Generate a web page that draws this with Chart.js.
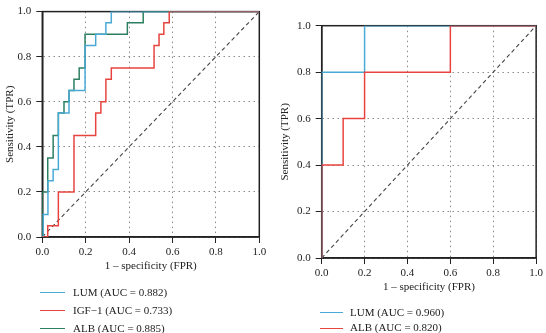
<!DOCTYPE html>
<html><head><meta charset="utf-8">
<script src="https://cdn.jsdelivr.net/npm/chart.js@4"></script>
<style>
body{margin:0;background:#fff;width:546px;height:333px;overflow:hidden;position:relative;font-family:"Liberation Serif",serif;}
.wrap{position:absolute;}
.leg{position:absolute;font-size:11px;color:#222;}
.item{position:relative;white-space:nowrap;}
.item .ln{position:absolute;left:0;height:0;border-top:1.3px solid;}
.item .tx{position:absolute;top:0;}
</style></head>
<body>
<div class="wrap" style="left:0;top:0;width:270px;height:275px"><canvas id="c1"></canvas></div>
<div class="wrap" style="left:276px;top:0;width:270px;height:296px"><canvas id="c2"></canvas></div>
<div class="leg" id="leg1" style="left:40px;top:282.5px"></div>
<div class="leg" id="leg2" style="left:320px;top:304.6px"></div>
<script>
// ---- data: left panel ----
const leftNames = ['LUM', 'IGF\u22121', 'ALB'];
const leftAuc = ['0.882', '0.733', '0.885'];
const leftLumFpr = [0, 0.004, 0.026, 0.05, 0.074, 0.123, 0.197, 0.246, 0.293, 0.318, 1.0];
const leftLumTpr = [0, 0.10, 0.25, 0.30, 0.55, 0.65, 0.85, 0.90, 0.95, 1.00, 1.00];
const leftIgfFpr = [0, 0.025, 0.074, 0.146, 0.246, 0.270, 0.293, 0.318, 0.515, 0.538, 0.560, 0.585, 1.0];
const leftIgfTpr = [0, 0.05, 0.20, 0.45, 0.55, 0.60, 0.70, 0.75, 0.85, 0.90, 0.95, 1.00, 1.00];
const leftAlbFpr = [0, 0, 0.025, 0.05, 0.074, 0.10, 0.123, 0.146, 0.170, 0.197, 0.392, 0.465, 1.0];
const leftAlbTpr = [0, 0.20, 0.35, 0.45, 0.55, 0.60, 0.65, 0.70, 0.75, 0.90, 0.95, 1.00, 1.00];
// ---- data: right panel ----
const rightNames = ['LUM', 'ALB'];
const rightAuc = ['0.960', '0.820'];
const rightLumFpr = [0, 0, 0.2, 1.0];
const rightLumTpr = [0, 0.8, 1.0, 1.0];
const rightAlbFpr = [0, 0, 0.1, 0.2, 0.6, 1.0];
const rightAlbTpr = [0, 0.4, 0.6, 0.8, 1.0, 1.0];
// ---- shared ----
const axisTicks = [0, 0.2, 0.4, 0.6, 0.8, 1.0];
const refFpr = [0, 1];
const refTpr = [0, 1];

const COL_BLUE = '#4aaad6', COL_RED = '#e8443f', COL_GREEN = '#2c7f60';
const FONT = {family: 'Liberation Serif', size: 11};
Chart.defaults.font.family = 'Liberation Serif';

function pts(xs, ys){ return xs.map((x,i)=>({x:x, y:ys[i]})); }

function rocSet(label, xs, ys, color){
  return {label, data: pts(xs, ys), borderColor: color, backgroundColor: color,
    borderWidth: 1.5, stepped: true, pointRadius: 0, fill: false, tension: 0, order: 1};
}
function refSet(){
  return {label: 'ref', data: pts(refFpr, refTpr), borderColor: '#444', borderWidth: 1.1,
    borderDash: [4, 3], pointRadius: 0, fill: false, order: 2};
}

const frame = {
  id: 'frame',
  beforeDatasetsDraw(chart){
    const a = chart.chartArea, c = chart.ctx;
    c.save(); c.strokeStyle = '#222'; c.lineWidth = 1.5; c.setLineDash([]);
    c.strokeRect(a.left, a.top, a.right - a.left, a.bottom - a.top);
    c.restore();
  }
};

function axis(title, isX, yTitlePad){
  const o = {
    type: 'linear', min: 0, max: 1,
    afterBuildTicks: s => { s.ticks = axisTicks.map(v => ({value: v})); },
    ticks: {callback: v => Number(v).toFixed(1), font: FONT, color: '#222',
      padding: isX ? 3 : 5, maxRotation: 0, autoSkip: false},
    grid: {color: '#8a8a8a', lineWidth: 1, tickLength: 6, tickColor: '#222',
      tickBorderDash: [], tickWidth: 1},
    border: {display: true, color: '#222', width: 1.5, dash: [1.5, 3.5]},
    title: {display: true, text: title, font: FONT, color: '#222',
      padding: isX ? {top: 0, bottom: 2} : {top: yTitlePad, bottom: 0}}
  };
  return o;
}

function makeChart(id, datasets, yWidth, yTitlePad, padRight, padTop){
  const xs = axis('1 \u2013 specificity (FPR)', true);
  xs.afterFit = s => { s.height = 38; };
  const ys = axis('Sensitivity (TPR)', false, yTitlePad);
  ys.afterFit = s => { s.width = yWidth; };
  return new Chart(document.getElementById(id), {
    type: 'line',
    data: {datasets},
    options: {
      responsive: true, maintainAspectRatio: false, animation: false,
      layout: {padding: {left: 0, right: padRight, top: padTop, bottom: 0}},
      plugins: {legend: {display: false}, tooltip: {enabled: false}},
      scales: {x: xs, y: ys}
    },
    plugins: [frame]
  });
}

makeChart('c1', [
  rocSet(leftNames[1], leftIgfFpr, leftIgfTpr, COL_RED),
  rocSet(leftNames[0], leftLumFpr, leftLumTpr, COL_BLUE),
  rocSet(leftNames[2], leftAlbFpr, leftAlbTpr, COL_GREEN),
  refSet()
], 42.3, 4, 10.7, 4);

makeChart('c2', [
  rocSet(rightNames[1], rightAlbFpr, rightAlbTpr, COL_RED),
  rocSet(rightNames[0], rightLumFpr, rightLumTpr, COL_BLUE),
  refSet()
], 45.7, 3, 6.7, 25.7);

function legend(elId, names, aucs, colors, lh, lineW, textX){
  const el = document.getElementById(elId);
  names.forEach((n, i) => {
    const it = document.createElement('div');
    it.className = 'item';
    it.style.height = lh + 'px';
    const ln = document.createElement('div');
    ln.className = 'ln'; ln.style.width = lineW + 'px'; ln.style.top = (lh/2) + 'px';
    ln.style.borderTopColor = colors[i];
    const tx = document.createElement('div');
    tx.className = 'tx'; tx.style.left = textX + 'px'; tx.style.lineHeight = lh + 'px';
    tx.textContent = n + ' (AUC = ' + aucs[i] + ')';
    it.appendChild(ln); it.appendChild(tx); el.appendChild(it);
  });
}
legend('leg1', leftNames, leftAuc, [COL_BLUE, COL_RED, COL_GREEN], 18.3, 25, 33);
legend('leg2', rightNames, rightAuc, [COL_BLUE, COL_RED], 15.4, 22.7, 30);
</script>
</body></html>
